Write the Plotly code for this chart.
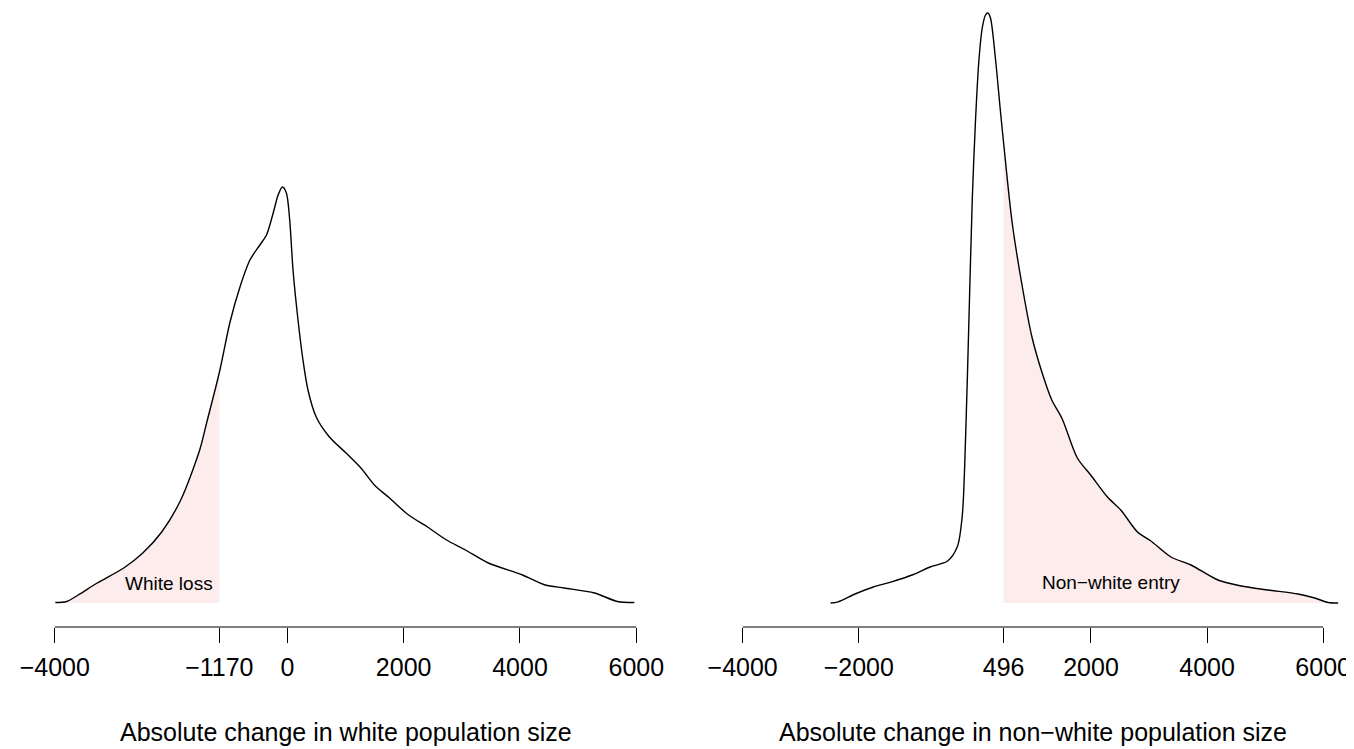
import numpy as np
import plotly.graph_objects as go

# ---------------- data ----------------
white_x = [-3990, -3795, -3597, -3270, -2814, -2487, -2161, -1834, -1508, -1385,
           -1168, -986, -815, -644, -473, -359, -244, -159, -85, -17,
           40, 97, 183, 268, 354, 496, 723, 1009, 1265, 1496,
           1757, 2084, 2410, 2737, 3063, 3455, 4043, 4434, 4761, 5282,
           5675, 5966]
white_density = [0.5, 1.5, 8, 20, 35, 50, 71, 103, 153, 181,
                 231, 281, 316, 343, 358, 368, 390, 408, 416, 410,
                 383, 333, 283, 243, 213, 186, 166, 150, 135, 118,
                 105, 88, 76, 63, 53, 40, 28, 18, 15, 10,
                 1.5, 0.5]

nonwhite_x = [-2486, -2354, -2065, -1748, -1461, -1058, -771, -470, -301, -216,
              -159, -101, -44, 12, 70, 127, 183, 224, 269, 355,
              440, 509, 641, 812, 983, 1154, 1325, 1505, 1765, 1995,
              2284, 2514, 2801, 3033, 3378, 3723, 4185, 4587, 5048, 5567,
              5854, 6086, 6257]
nonwhite_density = [0, 1.2, 9, 16, 20.7, 28.5, 36, 42, 56.5, 88,
                    167, 286, 405, 484, 543, 575, 588, 590, 585, 544,
                    492, 452, 381, 318, 266, 231, 203, 184, 145, 128,
                    106, 93, 71, 62, 46, 38, 23, 17, 13, 9,
                    5, 0.5, 0]

white_cut = -1170      # white loss threshold
nonwhite_cut = 496     # non-white entry threshold

tick_vals_white = [-4000, white_cut, 0, 2000, 4000, 6000]
tick_text_white = ["\u22124000", "\u22121170", "0", "2000", "4000", "6000"]
tick_vals_nonwhite = [-4000, -2000, nonwhite_cut, 2000, 4000, 6000]
tick_text_nonwhite = ["\u22124000", "\u22122000", "496", "2000", "4000", "6000"]

title_white = "Absolute change in white population size"
title_nonwhite = "Absolute change in non\u2212white population size"
label_white = "White loss"
label_nonwhite = "Non\u2212white entry"

# ---------------- layout constants ----------------
OFF = 8                            # page body margin
W, H = 1354 - OFF, 749 - OFF
FONT = "Liberation Sans, Arial, Helvetica, sans-serif"
FILL = "rgba(253,236,236,1)"

def fy_px(page_y):                 # page pixel row -> figure pixel row
    return page_y - OFF

axis_py = fy_px(627)               # x axis line row
base_py = fy_px(603)               # density baseline row
ybot = (H - axis_py) / H

fig = go.Figure()

# ---- left panel (white) ----
wx = np.array(white_x, float)
wd = np.array(white_density, float)
cut_val = float(np.interp(white_cut, wx, wd))
mask = wx < white_cut
fx = list(wx[mask]) + [white_cut]
fy = list(wd[mask]) + [cut_val]
fig.add_trace(go.Scatter(x=fx, y=fy, mode="lines", fill="tozeroy",
                         fillcolor=FILL, line=dict(width=0, shape="spline", smoothing=0.8),
                         hoverinfo="skip", showlegend=False, xaxis="x", yaxis="y"))
fig.add_trace(go.Scatter(x=white_x, y=white_density, mode="lines",
                         line=dict(color="black", width=1.4, shape="spline", smoothing=0.8),
                         showlegend=False, xaxis="x", yaxis="y"))

# ---- right panel (non-white) ----
nx = np.array(nonwhite_x, float)
nd = np.array(nonwhite_density, float)
cut_val2 = float(np.interp(nonwhite_cut, nx, nd))
mask2 = nx > nonwhite_cut
fx2 = [nonwhite_cut] + list(nx[mask2])
fy2 = [cut_val2] + list(nd[mask2])
fig.add_trace(go.Scatter(x=fx2, y=fy2, mode="lines", fill="tozeroy",
                         fillcolor=FILL, line=dict(width=0, shape="spline", smoothing=0.8),
                         hoverinfo="skip", showlegend=False, xaxis="x2", yaxis="y2"))
fig.add_trace(go.Scatter(x=nonwhite_x, y=nonwhite_density, mode="lines",
                         line=dict(color="black", width=1.4, shape="spline", smoothing=0.8),
                         showlegend=False, xaxis="x2", yaxis="y2"))

# pixel -> data mapping for the panels (figure pixels)
def xrange_for(px_left, px_right, px_m4000, px_p6000):
    scale = (px_p6000 - px_m4000) / 10000.0
    return [-4000 - (px_m4000 - px_left) / scale, -4000 + (px_right - px_m4000) / scale]

L0, L1 = 12, 652
R0, R1 = 697, 1344
xr_left = xrange_for(L0, L1, 47 - OFF, 632 - OFF)
xr_right = xrange_for(R0, R1, 739 - OFF, 1323 - OFF)
yr = [-(axis_py - base_py), base_py]   # 0 sits on the baseline row

axis_common = dict(showgrid=False, zeroline=False, showline=False,
                   ticks="outside", ticklen=15, tickwidth=1, tickcolor="black",
                   tickfont=dict(family=FONT, size=25, color="black"),
                   ticklabelstandoff=3, fixedrange=True)

fig.update_layout(
    width=W, height=H, autosize=False,
    margin=dict(l=0, r=0, t=0, b=0),
    paper_bgcolor="white", plot_bgcolor="white",
    font=dict(family=FONT, color="black"),
    xaxis=dict(domain=[L0 / W, L1 / W], range=xr_left, anchor="y",
               tickmode="array", tickvals=tick_vals_white, ticktext=tick_text_white,
               **axis_common),
    xaxis2=dict(domain=[R0 / W, R1 / W], range=xr_right, anchor="y2",
                tickmode="array", tickvals=tick_vals_nonwhite, ticktext=tick_text_nonwhite,
                **axis_common),
    yaxis=dict(domain=[ybot, 1], range=yr, visible=False, fixedrange=True),
    yaxis2=dict(domain=[ybot, 1], range=yr, visible=False, fixedrange=True, anchor="x2"),
)

# axis lines spanning first to last tick (R style)
for xref, vals in (("x", tick_vals_white), ("x2", tick_vals_nonwhite)):
    fig.add_shape(type="line", xref=xref, yref="paper",
                  x0=min(vals), x1=max(vals), y0=ybot, y1=ybot,
                  line=dict(color="black", width=1))

# in-plot labels
fig.add_annotation(x=-2034, y=20, xref="x", yref="y",
                   text=label_white, showarrow=False,
                   font=dict(family=FONT, size=19, color="black"))
fig.add_annotation(x=2353, y=21, xref="x2", yref="y2",
                   text=label_nonwhite, showarrow=False,
                   font=dict(family=FONT, size=19, color="black"))

# axis titles
title_y = (H - fy_px(732)) / H
fig.add_annotation(x=1000, y=title_y, xref="x", yref="paper",
                   text=title_white, showarrow=False, yanchor="middle",
                   font=dict(family=FONT, size=25, color="black"))
fig.add_annotation(x=1000, y=title_y, xref="x2", yref="paper",
                   text=title_nonwhite, showarrow=False, yanchor="middle",
                   font=dict(family=FONT, size=25, color="black"))

fig.write_html("out.html")
